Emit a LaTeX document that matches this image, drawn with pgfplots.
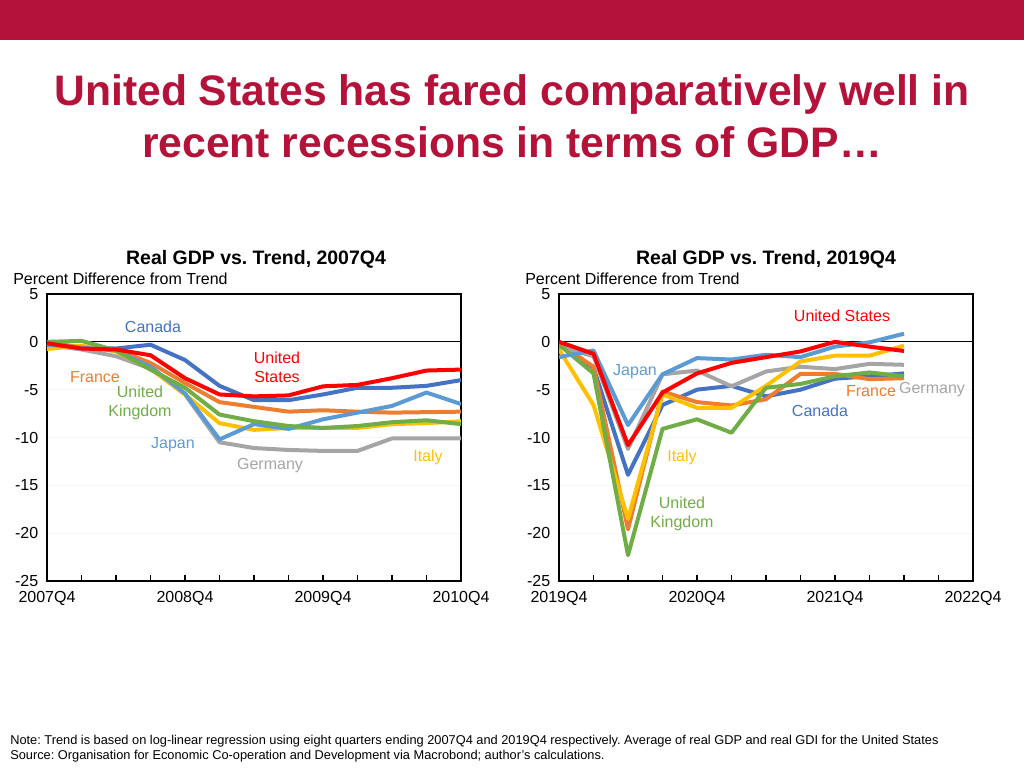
\documentclass[border=0pt]{standalone}
\usepackage{pgfplots}
\pgfplotsset{compat=1.18}
\usepackage{pgfplotstable}
\usepackage{fontspec}
\setmainfont{Liberation Sans}
\frenchspacing
\definecolor{crimson}{HTML}{B5123A}
\definecolor{cUS}{HTML}{FF0000}
\definecolor{cCA}{HTML}{4472C4}
\definecolor{cJP}{HTML}{5B9BD5}
\definecolor{cDE}{HTML}{A5A5A5}
\definecolor{cIT}{HTML}{FFC000}
\definecolor{cUK}{HTML}{70AD47}
\definecolor{cFR}{HTML}{ED7D31}

\pgfplotstableread{
q US CA JP DE IT UK FR
0 -0.15 -0.1 -0.3 -0.3 -0.75 0.0 -0.2
1 -0.7 -0.6 -0.6 -0.8 -0.4 0.1 -0.5
2 -0.8 -0.7 -0.9 -1.5 -1.0 -0.9 -0.8
3 -1.4 -0.3 -2.6 -2.8 -2.8 -2.9 -2.2
4 -3.8 -1.9 -5.4 -5.5 -5.5 -4.8 -4.3
5 -5.5 -4.6 -10.2 -10.5 -8.5 -7.6 -6.3
6 -5.7 -6.1 -8.6 -11.1 -9.2 -8.3 -6.8
7 -5.6 -6.1 -9.1 -11.3 -9.0 -8.8 -7.3
8 -4.65 -5.5 -8.1 -11.4 -9.0 -9.0 -7.15
9 -4.5 -4.8 -7.4 -11.4 -9.0 -8.8 -7.3
10 -3.8 -4.8 -6.7 -10.1 -8.6 -8.4 -7.4
11 -3.0 -4.6 -5.3 -10.1 -8.5 -8.2 -7.35
12 -2.9 -4.0 -6.5 -10.1 -8.3 -8.6 -7.3
}\leftdata

\pgfplotstableread{
q US CA JP DE IT UK FR
0 0 -0.3 -1.6 -0.5 -0.8 -0.3 -0.15
1 -1.25 -2.7 -0.9 -1.5 -6.6 -3.3 -2.6
2 -10.8 -13.9 -8.7 -11.2 -18.5 -22.3 -19.6
3 -5.3 -6.6 -3.4 -3.4 -5.5 -9.1 -5.2
4 -3.3 -5.0 -1.7 -3.0 -6.9 -8.1 -6.3
5 -2.2 -4.6 -1.85 -4.65 -6.9 -9.5 -6.65
6 -1.6 -5.7 -1.35 -3.1 -4.6 -4.8 -6.0
7 -1.0 -5.0 -1.6 -2.6 -2.05 -4.4 -3.35
8 0 -3.85 -0.5 -2.85 -1.45 -3.6 -3.35
9 -0.5 -3.6 -0.05 -2.3 -1.45 -3.2 -3.9
10 -0.95 -3.3 0.85 -2.4 -0.4 -3.6 -3.8
}\rightdata

\pgfplotsset{
  gdpaxis/.style={
    scale only axis,
    width=310.5pt, height=215.25pt,
    anchor=south west,
    xmin=0, xmax=12, ymin=-25, ymax=5,
    xtick={0,...,12},
    ytick={-25,-20,...,5},
    tick align=inside,
    xtick pos=bottom,
    ytick pos=left,
    ytick style={draw=none},
    major tick length=4.5pt,
    axis line style={black, line width=0.9pt},
    xtick style={black, line width=0.9pt},
    ymajorgrids, grid style={gray!8, line width=0.6pt},
    tick label style={font=\fontsize{12}{14}\selectfont},
    /pgf/number format/assume math mode=true,
    yticklabel style={xshift=-3pt},
    xticklabel style={yshift=-4pt},
    every axis plot/.append style={line width=3pt, line join=round, mark=none},
  }
}

\begin{document}
\begin{tikzpicture}[x=0.75pt,y=-0.75pt]
\path[use as bounding box] (0,0) rectangle (1024,768);
\fill[crimson] (0,0) rectangle (1024,40);

\node[anchor=base, text=crimson, font=\fontsize{32}{38}\selectfont\bfseries] at (512,105) {United States has fared comparatively well in};
\node[anchor=base, text=crimson, font=\fontsize{32}{38}\selectfont\bfseries] at (512,157) {recent recessions in terms of GDP…};

% Left chart
\node[anchor=base, font=\fontsize{14.6}{17}\selectfont\bfseries] at (256,264) {Real GDP vs. Trend, 2007Q4};
\node[anchor=base west, inner sep=0pt, font=\fontsize{12}{14}\selectfont] at (13,284) {Percent Difference from Trend};

\begin{axis}[gdpaxis, at={(35.25pt,-435.75pt)},
  xticklabels={2007Q4,,,,2008Q4,,,,2009Q4,,,,2010Q4}]
\draw[black, line width=0.9pt] (axis cs:0,0) -- (axis cs:12,0);
\addplot[cCA] table[x=q,y=CA] {\leftdata};
\addplot[cFR] table[x=q,y=FR] {\leftdata};
\addplot[cDE] table[x=q,y=DE] {\leftdata};
\addplot[cIT] table[x=q,y=IT] {\leftdata};
\addplot[cJP] table[x=q,y=JP] {\leftdata};
\addplot[cUK] table[x=q,y=UK] {\leftdata};
\addplot[cUS] table[x=q,y=US] {\leftdata};
\end{axis}

\begin{scope}[font=\fontsize{12}{14}\selectfont]
\node[text=cCA] at (153,327) {Canada};
\node[text=cUS, align=center] at (277,367) {United\\States};
\node[text=cFR] at (95,377) {France};
\node[text=cUK, align=center] at (140,403) {United\\Kingdom};
\node[text=cJP] at (173,445) {Japan};
\node[text=cDE] at (270,466) {Germany};
\node[text=cIT] at (428,457) {Italy};
\end{scope}

% Right chart
\node[anchor=base, font=\fontsize{14.6}{17}\selectfont\bfseries] at (766,264) {Real GDP vs. Trend, 2019Q4};
\node[anchor=base west, inner sep=0pt, font=\fontsize{12}{14}\selectfont] at (525,284) {Percent Difference from Trend};

\begin{axis}[gdpaxis, at={(419.25pt,-435.75pt)},
  xticklabels={2019Q4,,,,2020Q4,,,,2021Q4,,,,2022Q4}]
\draw[black, line width=0.9pt] (axis cs:0,0) -- (axis cs:12,0);
\addplot[cCA] table[x=q,y=CA] {\rightdata};
\addplot[cFR] table[x=q,y=FR] {\rightdata};
\addplot[cDE] table[x=q,y=DE] {\rightdata};
\addplot[cIT] table[x=q,y=IT] {\rightdata};
\addplot[cUK] table[x=q,y=UK] {\rightdata};
\addplot[cJP] table[x=q,y=JP] {\rightdata};
\addplot[cUS] table[x=q,y=US] {\rightdata};
\end{axis}

\begin{scope}[font=\fontsize{12}{14}\selectfont]
\node[text=cUS] at (842,316) {United States};
\node[text=cJP] at (635,372) {Japan};
\node[text=cFR] at (871,391) {France};
\node[text=cDE] at (932,390) {Germany};
\node[text=cCA] at (820,411) {Canada};
\node[text=cIT] at (682,457) {Italy};
\node[text=cUK, align=center] at (682,514) {United\\Kingdom};
\end{scope}

% Footnote
\node[anchor=base west, inner sep=0pt, font=\fontsize{9.6}{12}\selectfont] at (10,744) {Note: Trend is based on log-linear regression using eight quarters ending 2007Q4 and 2019Q4 respectively. Average of real GDP and real GDI for the United States};
\node[anchor=base west, inner sep=0pt, font=\fontsize{9.6}{12}\selectfont] at (10,759) {Source: Organisation for Economic Co-operation and Development via Macrobond; author’s calculations.};
\end{tikzpicture}
\end{document}
